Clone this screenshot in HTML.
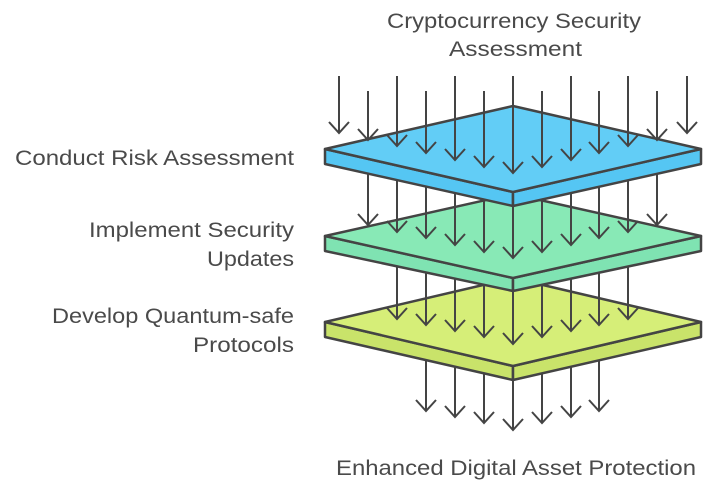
<!DOCTYPE html>
<html><head><meta charset="utf-8"><style>
html,body{margin:0;padding:0;background:#fff;}
svg{display:block;}
text{font-family:"Liberation Sans",sans-serif;font-size:21px;fill:#4a4a4a;}
</style></head><body>
<svg width="712" height="484" viewBox="0 0 712 484" xmlns="http://www.w3.org/2000/svg">
<defs>
<g id="ah"><path d="M-10,-11 L0,0 L10,-11" fill="none" stroke="#444" stroke-width="2"/></g>
</defs>
<g stroke="#444" stroke-width="2" fill="none">
<!-- arrows below plate 3 -->
<line x1="426" y1="360" x2="426" y2="410"/><use href="#ah" x="426" y="411"/>
<line x1="455" y1="360" x2="455" y2="416"/><use href="#ah" x="455" y="417"/>
<line x1="484" y1="360" x2="484" y2="422"/><use href="#ah" x="484" y="423"/>
<line x1="513" y1="370" x2="513" y2="429"/><use href="#ah" x="513" y="430"/>
<line x1="542" y1="360" x2="542" y2="422"/><use href="#ah" x="542" y="423"/>
<line x1="571" y1="360" x2="571" y2="416"/><use href="#ah" x="571" y="417"/>
<line x1="599" y1="360" x2="599" y2="410"/><use href="#ah" x="599" y="411"/>
</g>
<!-- plate 3 -->
<polygon points="325,322 513,366 513,380 325,337" fill="#c9e36a" stroke="#444" stroke-width="2.5" stroke-linejoin="round"/>
<polygon points="701,322 513,366 513,380 701,337" fill="#c9e36a" stroke="#444" stroke-width="2.5" stroke-linejoin="round"/>
<polygon points="513,278 701,322 513,366 325,322" fill="#d6ee78" stroke="#444" stroke-width="2.5" stroke-linejoin="round"/>
<g stroke="#444" stroke-width="2" fill="none">
<line x1="397" y1="260" x2="397" y2="318"/><use href="#ah" x="397" y="319"/>
<line x1="426" y1="260" x2="426" y2="324"/><use href="#ah" x="426" y="325"/>
<line x1="455" y1="260" x2="455" y2="330"/><use href="#ah" x="455" y="331"/>
<line x1="484" y1="260" x2="484" y2="336"/><use href="#ah" x="484" y="337"/>
<line x1="513" y1="260" x2="513" y2="343"/><use href="#ah" x="513" y="344"/>
<line x1="542" y1="260" x2="542" y2="336"/><use href="#ah" x="542" y="337"/>
<line x1="571" y1="260" x2="571" y2="330"/><use href="#ah" x="571" y="331"/>
<line x1="599" y1="260" x2="599" y2="324"/><use href="#ah" x="599" y="325"/>
<line x1="628" y1="260" x2="628" y2="318"/><use href="#ah" x="628" y="319"/>
</g>
<!-- plate 2 -->
<polygon points="325,236 513,278 513,291 325,251" fill="#7fe3b2" stroke="#444" stroke-width="2.5" stroke-linejoin="round"/>
<polygon points="701,236 513,278 513,291 701,251" fill="#7fe3b2" stroke="#444" stroke-width="2.5" stroke-linejoin="round"/>
<polygon points="513,194 701,236 513,278 325,236" fill="#88e9b6" stroke="#444" stroke-width="2.5" stroke-linejoin="round"/>
<g stroke="#444" stroke-width="2" fill="none">
<line x1="368" y1="170" x2="368" y2="224"/><use href="#ah" x="368" y="225"/>
<line x1="397" y1="170" x2="397" y2="231"/><use href="#ah" x="397" y="232"/>
<line x1="426" y1="170" x2="426" y2="237"/><use href="#ah" x="426" y="238"/>
<line x1="455" y1="170" x2="455" y2="244"/><use href="#ah" x="455" y="245"/>
<line x1="484" y1="170" x2="484" y2="251"/><use href="#ah" x="484" y="252"/>
<line x1="513" y1="170" x2="513" y2="257"/><use href="#ah" x="513" y="258"/>
<line x1="542" y1="170" x2="542" y2="251"/><use href="#ah" x="542" y="252"/>
<line x1="571" y1="170" x2="571" y2="244"/><use href="#ah" x="571" y="245"/>
<line x1="599" y1="170" x2="599" y2="237"/><use href="#ah" x="599" y="238"/>
<line x1="628" y1="170" x2="628" y2="231"/><use href="#ah" x="628" y="232"/>
<line x1="657" y1="170" x2="657" y2="224"/><use href="#ah" x="657" y="225"/>
</g>
<!-- plate 1 -->
<polygon points="325,149 513,192 513,206 325,164" fill="#55c6f3" stroke="#444" stroke-width="2.5" stroke-linejoin="round"/>
<polygon points="701,149 513,192 513,206 701,164" fill="#55c6f3" stroke="#444" stroke-width="2.5" stroke-linejoin="round"/>
<polygon points="513,106 701,149 513,192 325,149" fill="#62cdf6" stroke="#444" stroke-width="2.5" stroke-linejoin="round"/>
<g stroke="#444" stroke-width="2" fill="none">
<line x1="339" y1="76" x2="339" y2="132"/><use href="#ah" x="339" y="133"/>
<line x1="368" y1="91" x2="368" y2="139"/><use href="#ah" x="368" y="140"/>
<line x1="397" y1="76" x2="397" y2="145"/><use href="#ah" x="397" y="146"/>
<line x1="426" y1="91" x2="426" y2="152"/><use href="#ah" x="426" y="153"/>
<line x1="455" y1="76" x2="455" y2="159"/><use href="#ah" x="455" y="160"/>
<line x1="484" y1="91" x2="484" y2="166"/><use href="#ah" x="484" y="167"/>
<line x1="513" y1="76" x2="513" y2="172"/><use href="#ah" x="513" y="173"/>
<line x1="542" y1="91" x2="542" y2="166"/><use href="#ah" x="542" y="167"/>
<line x1="571" y1="76" x2="571" y2="159"/><use href="#ah" x="571" y="160"/>
<line x1="599" y1="91" x2="599" y2="152"/><use href="#ah" x="599" y="153"/>
<line x1="628" y1="76" x2="628" y2="145"/><use href="#ah" x="628" y="146"/>
<line x1="657" y1="91" x2="657" y2="139"/><use href="#ah" x="657" y="140"/>
<line x1="687" y1="76" x2="687" y2="132"/><use href="#ah" x="687" y="133"/>
</g>
<!-- labels -->
<text x="387" y="28" textLength="254" lengthAdjust="spacingAndGlyphs">Cryptocurrency Security</text>
<text x="449" y="56" textLength="133" lengthAdjust="spacingAndGlyphs">Assessment</text>
<text x="15" y="165" textLength="279" lengthAdjust="spacingAndGlyphs">Conduct Risk Assessment</text>
<text x="89" y="237" textLength="205" lengthAdjust="spacingAndGlyphs">Implement Security</text>
<text x="207" y="266" textLength="87" lengthAdjust="spacingAndGlyphs">Updates</text>
<text x="52" y="323" textLength="242" lengthAdjust="spacingAndGlyphs">Develop Quantum-safe</text>
<text x="193" y="352" textLength="101" lengthAdjust="spacingAndGlyphs">Protocols</text>
<text x="336" y="475" textLength="360" lengthAdjust="spacingAndGlyphs">Enhanced Digital Asset Protection</text>
</svg>
</body></html>
